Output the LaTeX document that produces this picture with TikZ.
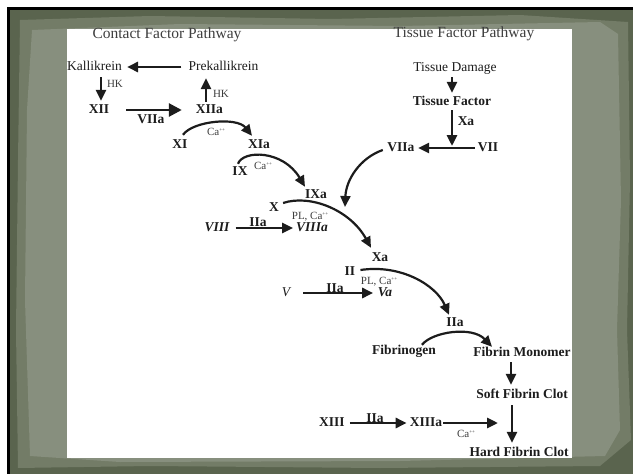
\documentclass[tikz,border=0pt]{standalone}
\usepackage{fontspec}
\setmainfont{Liberation Serif}
\usetikzlibrary{arrows.meta,calc}
\definecolor{frdark}{HTML}{5A644E}
\definecolor{frmid}{HTML}{737C67}
\definecolor{frlight}{HTML}{878F7E}
\definecolor{ink}{HTML}{1C1C1C}
\newcommand{\caion}{Ca\raisebox{4pt}{\fontsize{5}{5}\selectfont ++}}
\begin{document}
\begin{tikzpicture}[x=1pt,y=-1pt,
  every node/.style={inner sep=1pt, text height=9pt, text depth=3pt, text=ink},
  rg/.style={font=\fontsize{13.5}{15}\selectfont},
  bd/.style={font=\fontsize{13.5}{15}\selectfont\bfseries},
  bi/.style={font=\fontsize{13.5}{15}\selectfont\bfseries\itshape},
  it/.style={font=\fontsize{13.5}{15}\selectfont\itshape},
  sm/.style={font=\fontsize{11}{12}\selectfont, text height=7.5pt, text depth=2.5pt, text=ink!85},
  ttl/.style={font=\fontsize{15.5}{17}\selectfont, text height=10.5pt, text depth=3.5pt, text=ink!85},
  arr/.style={draw=ink, line width=2.7pt, -{Triangle[length=11pt,width=10pt]}},
  bigarr/.style={arr, -{Triangle[length=13pt,width=13pt]}},
  carr/.style={draw=ink, line width=2.2pt, -{Triangle[length=11pt,width=10pt]}},
]
\useasboundingbox (0,0) rectangle (633,474);
% background frame
\fill[white] (0,0) rectangle (633,474);
\fill[black] (7,7) rectangle (633,474);
\fill[frdark] (10,10) rectangle (633,474);
\fill[frmid] (20,20) -- (150,16) -- (330,19) -- (520,15) -- (628,22) -- (630,180) -- (627,330) -- (631,440) -- (600,466) -- (380,468) -- (150,466) -- (18,468) -- (16,330) -- (18,160) -- cycle;
\fill[frlight] (32,30) -- (180,24) -- (400,26) -- (600,22) -- (618,34) -- (621,200) -- (617,330) -- (620,430) -- (605,456) -- (400,461) -- (120,462) -- (30,456) -- (25,300) -- (27,110) -- cycle;
\fill[white] (67,29) rectangle (572,458);

% titles
\node[ttl] (ttlA) at (167,35) {Contact Factor Pathway};
\node[ttl] (ttlB) at (464,34) {Tissue Factor Pathway};

% contact pathway
\node[rg] (Kal) at (94.5,67) {Kallikrein};
\node[rg] (Prek) at (223.5,67) {Prekallikrein};
\node[sm] (hkA) at (115,85) {HK};
\node[sm] (hkB) at (221,95) {HK};
\node[bd] (XII) at (99,110) {XII};
\node[bd] (XIIa) at (209.5,110) {XIIa};
\node[bd] (lVIIa) at (151,120) {VIIa};
\node[bd] (XI) at (180,145) {XI};
\node[bd] (XIa) at (259,145) {XIa};
\node[sm] (caA) at (216,133) {\caion};
\node[bd] (IX) at (240,172) {IX};
\node[sm] (caB) at (263,167) {\caion};
\node[bd] (IXa) at (316,195) {IXa};
\node[bd] (X) at (274,208) {X};
\node[sm] (plcaA) at (310,217) {PL, \caion};
\node[bi] (VIII) at (217,228) {VIII};
\node[bd] (lIIaA) at (258,223) {IIa};
\node[bi] (VIIIa) at (312,228) {VIIIa};

% tissue pathway
\node[rg] (TD) at (455,68) {Tissue Damage};
\node[bd] (TF) at (452,102) {Tissue Factor};
\node[bd] (lXa) at (466,122) {Xa};
\node[bd] (VIIa) at (401,148) {VIIa};
\node[bd] (VII) at (488,148) {VII};

% common pathway
\node[bd] (Xa) at (380,258) {Xa};
\node[bd] (II) at (350,272) {II};
\node[sm] (plcaB) at (379,282) {PL, \caion};
\node[it] (V) at (286,293) {V};
\node[bd] (lIIaB) at (335,289) {IIa};
\node[bi] (Va) at (385,293) {Va};
\node[bd] (IIa) at (455,323) {IIa};
\node[bd] (Fib) at (404,351) {Fibrinogen};
\node[bd] (FM) at (522,353) {Fibrin Monomer};
\node[bd] (SFC) at (522,395) {Soft Fibrin Clot};
\node[bd] (XIII) at (332,423) {XIII};
\node[bd] (lIIaC) at (375,419) {IIa};
\node[bd] (XIIIa) at (426,423) {XIIIa};
\node[sm] (caC) at (466,435) {\caion};
\node[bd] (HFC) at (519,453) {Hard Fibrin Clot};

% connectors
\draw[arr] ($(Prek.west)+(-6,0)$) -- ($(Kal.east)+(4,0)$);
\draw[arr] ($(Kal.south)+(6.5,3)$) -- ($(XII.north)+(2,-2)$);
\draw[bigarr] ($(XII.east)+(16,0)$) -- ($(XIIa.west)+(-13,0)$);
\draw[arr] ($(XIIa.north)+(-3.5,-1)$) -- ($(Prek.south)+(-17.5,4)$);
\draw[carr] ($(XI.north)+(3,-3)$) .. controls +(10,-14) and +(-15,-19) .. ($(XIa.north)+(-7,-2)$);
\draw[carr] ($(IX.north)+(-2,-1)$) .. controls +(5,-14) and +(-22,-37) .. ($(IXa.north)+(-11,-1)$);
\draw[carr] ($(X.east)+(3,-5)$) .. controls +(27,-9) and +(-21,-38) .. ($(Xa.north)+(-9,-3)$);
\draw[arr] ($(VIII.east)+(5,0)$) -- ($(VIIIa.west)+(-2,0)$);

\coordinate (vtip) at (345,207);
\draw[carr] ($(VIIa.west)+(-3.5,2)$) .. controls +(-23,8) and +(1,-27) .. (vtip);
\draw[arr] ($(TD.south)+(-3,2)$) -- ($(TF.north)+(0,-2)$);
\coordinate (tfjoin) at (452,146);
\draw[arr] ($(TF.south)+(0,1)$) -- (tfjoin);
\draw[arr] ($(VII.west)+(-2,0)$) -- ($(VIIa.east)+(2.5,0)$);

\draw[carr] ($(II.east)+(4,-2)$) .. controls +(40,-6) and +(-13,-30) .. ($(IIa.north)+(-6,-1)$);
\draw[arr] ($(V.east)+(12,0)$) -- ($(Va.west)+(-3.5,0)$);
\draw[carr] ($(Fib.north)+(18,1)$) .. controls +(10,-13) and +(-20,-21) .. ($(FM.north)+(-30,1)$);
\draw[arr] ($(FM.south)+(-11,2)$) -- ($(SFC.north)+(-11,-3)$);
\draw[arr] ($(SFC.south)+(-10,3)$) -- ($(HFC.north)+(-7,-3)$);
\draw[arr] ($(XIII.east)+(4,0)$) -- ($(XIIIa.west)+(-2,0)$);
\coordinate (xiiijoin) at (498,423);
\draw[arr] (XIIIa.east) -- (xiiijoin);
\end{tikzpicture}
\end{document}
